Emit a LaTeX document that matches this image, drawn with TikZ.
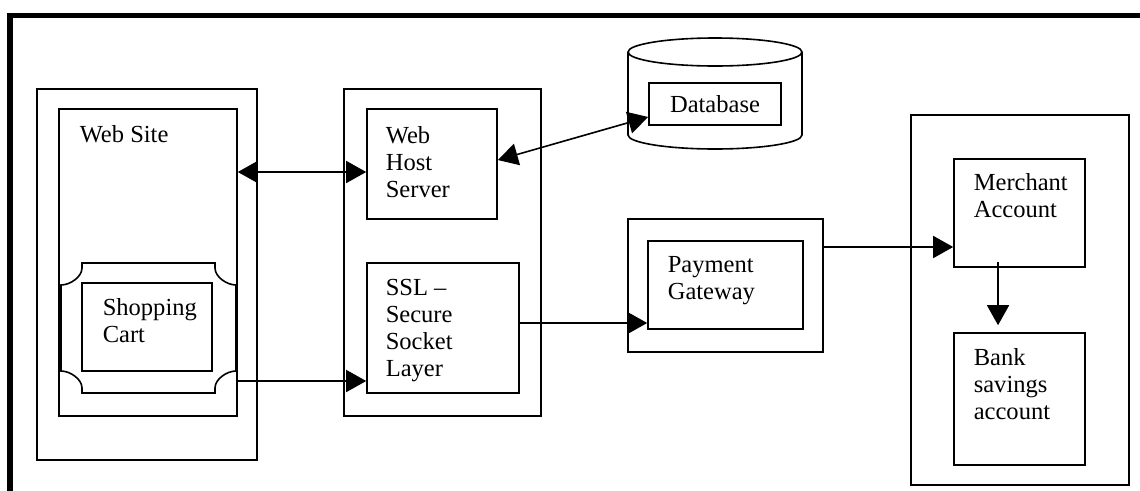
\documentclass[tikz,border=0pt]{standalone}
\usepackage{fontspec}
\setmainfont{Liberation Serif}
\usetikzlibrary{arrows.meta}

\begin{document}
\begin{tikzpicture}[x=0.75pt,y=-0.75pt,
  line width=1.2pt, line join=miter,
  box/.style 2 args={draw, inner sep=0pt, minimum width=#1*0.75pt, minimum height=#2*0.75pt},
  % labels are placed by the baseline of their last line
  lbl/.style={anchor=base west, inner sep=0pt, align=left, font=\fontsize{18.4pt}{20.25pt}\selectfont},
  tip/.tip={Triangle[length=15pt,width=16.5pt]},
  conn/.style={-tip},
  conn2/.style={tip-tip}
]
\useasboundingbox (0,0) rectangle (1140,490);

% page frame (left and top rules)
\draw[line width=4.1pt] (10,495) -- (10,15.5) -- (1145,15.5);

% --- web site column ---
\node[box={220}{371}] (siteouter) at (147,274.5) {};
\node[box={178}{307}] (site) at (148,262.5) {};
\node[lbl] (sitelbl) at (79,142) {Web Site};

% scroll-shaped frame around the cart
\draw (82,263) -- (215,263) -- (215,268)
  .. controls (215,277) and (227,285) .. (236,285) -- (236,371)
  .. controls (227,371) and (215,379) .. (215,388) -- (215,393) -- (82,393) -- (82,388)
  .. controls (82,379) and (70,371) .. (61,371) -- (61,285)
  .. controls (70,285) and (82,277) .. (82,268) -- cycle;
\coordinate (scrollR) at (236,381);
\node[box={130}{88}] (cart) at (147,327) {};
\node[lbl] (cartlbl) at (102,342) {Shopping\\Cart};

% --- server column ---
\node[box={197}{327}] (mid) at (442.5,252.5) {};
\node[box={130}{110}] (webhost) at (432,164) {};
\node[lbl] (hostlbl) at (385,197) {Web\\Host\\Server};
\node[box={152}{130}] (ssl) at (443,328) {};
\node[lbl] (ssllbl) at (385,376) {SSL –\\Secure\\Socket\\Layer};

% --- database cylinder ---
\draw (715,52) ellipse [x radius=87, y radius=14];
\draw (628,52) -- (628,135)
  .. controls (628,142.7) and (667,149) .. (715,149)
  .. controls (763,149) and (802,142.7) .. (802,135) -- (802,52);
\node[box={132}{42}, font=\fontsize{18.4pt}{20.25pt}\selectfont] (db) at (715,104) {Database};

% --- payment gateway ---
\node[box={195}{133}] (payouter) at (725.5,285.5) {};
\node[box={155}{88}] (pay) at (725.5,285) {};
\node[lbl] (paylbl) at (667,299) {Payment\\Gateway};

% --- bank side ---
\node[box={218}{370}] (bankside) at (1020,300) {};
\node[box={131}{108}] (merchant) at (1019.5,213) {};
\node[lbl] (merlbl) at (973,217) {Merchant\\Account};
\node[box={131}{132}] (bank) at (1019.5,399) {};
\node[lbl] (banklbl) at (973,419) {Bank\\savings\\account};

% --- connectors ---
\coordinate (hostIn) at ([yshift=-6pt]webhost.west);
\draw[conn2] (hostIn -| site.east) -- (hostIn);
\draw[conn] (scrollR) -- (scrollR -| ssl.west);
\draw[conn2] ([yshift=3pt]webhost.east) -- ([yshift=-9.75pt]db.west);
\coordinate (payIn) at ([yshift=-28.5pt]pay.west);
\draw[conn] (payIn -| ssl.east) -- (payIn);
\coordinate (merIn) at ([yshift=-25.5pt]merchant.west);
\draw[conn] (merIn -| payouter.east) -- (merIn);
\draw[conn] ([xshift=-16.1pt,yshift=4.5pt]merchant.south) -- ([xshift=-16.1pt,yshift=5.25pt]bank.north);
\end{tikzpicture}
\end{document}
